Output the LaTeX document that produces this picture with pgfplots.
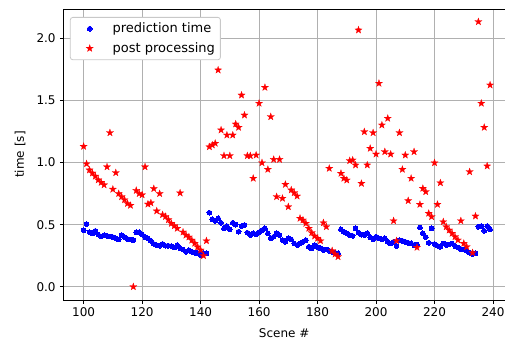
\documentclass[border=0pt]{standalone}
\usepackage{fontspec}
\setmainfont{DejaVu Sans}
\usepackage{pgfplots}
\pgfplotsset{compat=1.18}
\definecolor{gridgray}{HTML}{B0B0B0}
\definecolor{legedge}{HTML}{C8C8C8}
\pgfdeclareplotmark{fstar}{%
  \pgfpathmoveto{\pgfpointpolar{90}{1.0\pgfplotmarksize}}%
  \pgfpathlineto{\pgfpointpolar{126}{0.4\pgfplotmarksize}}%
  \pgfpathlineto{\pgfpointpolar{162}{1.0\pgfplotmarksize}}%
  \pgfpathlineto{\pgfpointpolar{198}{0.4\pgfplotmarksize}}%
  \pgfpathlineto{\pgfpointpolar{234}{1.0\pgfplotmarksize}}%
  \pgfpathlineto{\pgfpointpolar{270}{0.4\pgfplotmarksize}}%
  \pgfpathlineto{\pgfpointpolar{306}{1.0\pgfplotmarksize}}%
  \pgfpathlineto{\pgfpointpolar{342}{0.4\pgfplotmarksize}}%
  \pgfpathlineto{\pgfpointpolar{18}{1.0\pgfplotmarksize}}%
  \pgfpathlineto{\pgfpointpolar{54}{0.4\pgfplotmarksize}}%
  \pgfpathclose
  \pgfusepathqfillstroke}

\pgfplotstableread{
x y
100 0.455
101 0.505
102 0.44
103 0.43
104 0.45
105 0.42
106 0.405
107 0.415
108 0.41
109 0.405
110 0.40
111 0.39
112 0.38
113 0.415
114 0.40
115 0.385
116 0.38
117 0.375
118 0.44
119 0.44
120 0.42
121 0.40
122 0.39
123 0.37
124 0.345
125 0.335
126 0.33
127 0.345
128 0.33
129 0.33
130 0.328
131 0.317
132 0.336
133 0.31
134 0.30
135 0.282
136 0.295
137 0.282
138 0.275
139 0.269
140 0.255
141 0.269
142 0.269
143 0.596
144 0.543
145 0.531
146 0.551
147 0.515
148 0.470
149 0.489
150 0.462
151 0.515
152 0.50
153 0.443
154 0.489
155 0.497
156 0.435
157 0.416
158 0.43
159 0.424
160 0.44
161 0.456
162 0.47
163 0.43
164 0.39
165 0.403
166 0.43
167 0.416
168 0.376
169 0.362
170 0.39
171 0.38
172 0.349
173 0.336
174 0.35
175 0.362
176 0.376
177 0.322
178 0.309
179 0.336
180 0.32
181 0.309
182 0.295
183 0.30
184 0.29
185 0.282
186 0.274
187 0.269
188 0.462
189 0.443
190 0.43
191 0.416
192 0.41
193 0.47
194 0.435
195 0.42
196 0.416
197 0.43
198 0.398
199 0.382
200 0.403
201 0.39
202 0.382
203 0.39
204 0.362
205 0.349
206 0.362
207 0.328
208 0.376
209 0.37
210 0.362
211 0.354
212 0.35
213 0.336
214 0.34
215 0.478
216 0.43
217 0.40
218 0.354
219 0.47
220 0.344
221 0.33
222 0.322
223 0.349
224 0.336
225 0.34
226 0.349
227 0.328
228 0.317
229 0.301
230 0.30
231 0.29
232 0.274
233 0.263
234 0.27
235 0.483
236 0.489
237 0.451
238 0.489
239 0.462
}\predtable

\pgfplotstableread{
x y
100 1.13
101 0.99
102 0.94
103 0.915
104 0.89
105 0.86
106 0.84
107 0.82
108 0.965
109 1.24
110 0.785
111 0.918
112 0.75
113 0.725
114 0.70
115 0.67
116 0.655
117 0.0
118 0.775
119 0.75
120 0.74
121 0.965
122 0.665
123 0.675
124 0.79
125 0.61
126 0.75
127 0.58
128 0.565
129 0.54
130 0.51
131 0.49
132 0.47
133 0.755
134 0.44
135 0.415
136 0.40
137 0.375
138 0.35
139 0.32
140 0.295
141 0.25
142 0.37
143 1.127
144 1.141
145 1.155
146 1.745
147 1.262
148 1.055
149 1.221
150 1.055
151 1.221
152 1.31
153 1.283
154 1.543
155 1.382
156 1.055
157 1.055
158 0.873
159 1.06
160 1.477
161 0.998
162 1.605
163 0.945
164 1.369
165 1.025
166 0.725
167 1.025
168 0.712
169 0.824
170 0.644
171 0.779
172 0.757
173 0.73
174 0.551
175 0.537
176 0.51
177 0.47
178 0.435
179 0.408
180 0.39
181 0.37
182 0.515
183 0.483
184 0.953
185 0.29
186 0.263
187 0.242
188 0.913
189 0.873
190 0.859
191 1.015
192 1.02
193 0.98
194 2.067
195 0.832
196 1.248
197 0.98
198 1.114
199 1.24
200 1.068
201 1.638
202 1.302
203 1.087
204 1.356
205 1.068
206 0.531
207 0.37
208 1.24
209 0.945
210 1.06
211 0.693
212 0.873
213 1.087
214 0.317
215 0.663
216 0.792
217 0.765
218 0.591
219 0.564
220 0.998
221 0.663
222 0.837
223 0.523
224 0.483
225 0.456
226 0.43
227 0.403
228 0.376
229 0.531
230 0.349
231 0.322
232 0.926
233 0.274
234 0.569
235 2.134
236 1.477
237 1.283
238 0.972
239 1.624
}\posttable

\begin{document}
\fontsize{12bp}{14bp}\selectfont
\begin{tikzpicture}
\begin{axis}[
  scale only axis,
  width=441.7bp, height=291bp,
  xmin=93.05, xmax=244.1,
  ymin=-0.1065, ymax=2.2365,
  xtick={100,120,...,240},
  ytick={0,0.5,1,1.5,2},
  xtick pos=bottom, ytick pos=left,
  yticklabel style={/pgf/number format/.cd, fixed, fixed zerofill, precision=1},
  /pgf/number format/assume math mode=true,
  ticklabel style={font=\fontsize{12bp}{14bp}\selectfont},
  grid=major,
  major grid style={gridgray, line width=0.8bp},
  axis line style={line width=0.8bp},
  tick align=outside,
  major tick length=3.5bp,
  tick style={black, line width=0.8bp},
  xlabel={Scene \#}, ylabel={time [s]},
  every axis x label/.style={at={(rel axis cs:0.5,0)}, yshift=-33bp, anchor=center},
  every axis y label/.style={at={(rel axis cs:0,0.5)}, xshift=-43.3bp, rotate=90, anchor=center},
  legend style={at={(0.015,0.9725)}, anchor=north west, draw=legedge, line width=0.8bp,
    rounded corners=2.5bp, fill=white,
    font=\fontsize{13bp}{15bp}\selectfont, row sep=3bp, inner sep=3bp,
    nodes={inner sep=2.5bp}},
  legend cell align=left,
  legend image code/.code={%
    \path (0bp,0bp) (36bp,0bp);
    \draw[#1, only marks] plot coordinates {(16bp,0bp)};},
]
\addplot[only marks, mark=*, mark size=2.4bp, blue, mark options={draw=blue, fill=blue, line width=0pt}] table[x=x,y=y] {\predtable};
\addlegendentry{prediction time}
\addplot[only marks, mark=fstar, mark size=3.8bp, red, mark options={draw=red, fill=red, line width=0.2bp}] table[x=x,y=y] {\posttable};
\addlegendentry{post processing}
\coordinate (LL) at (rel axis cs:0,0);
\coordinate (UR) at (rel axis cs:1,1);
\end{axis}
\pgfresetboundingbox
\path[use as bounding box] ([shift={(-63.3bp,-42bp)}]LL) rectangle ([shift={(0bp,9bp)}]UR);
\end{tikzpicture}
\end{document}
